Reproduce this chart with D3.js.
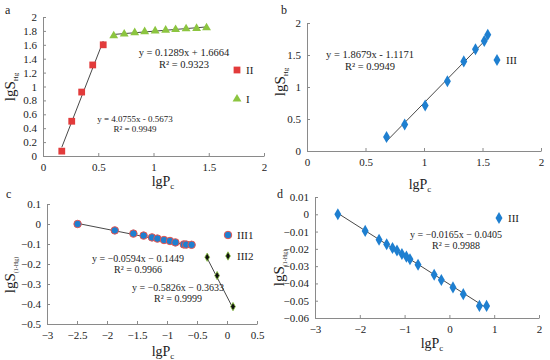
<!DOCTYPE html>
<html>
<head>
<meta charset="utf-8">
<title>lgS vs lgPc</title>
<script src="https://d3js.org/d3.v7.min.js"></script>
<style>
  body { margin: 0; background: #fff; }
  text { font-family: "Liberation Serif", "Times New Roman", serif; fill: #222; }
</style>
</head>
<body>
<svg width="550" height="360"></svg>
<script>
// panel a
const aX2 = [0.17, 0.26, 0.35, 0.45, 0.545];
const aY2 = [0.07, 0.50, 0.92, 1.31, 1.60];
const aX1 = [0.64, 0.735, 0.83, 0.92, 1.015, 1.11, 1.20, 1.295, 1.39, 1.48];
const aY1 = [1.73, 1.755, 1.775, 1.79, 1.80, 1.81, 1.82, 1.83, 1.835, 1.845];
const aFit2 = [4.0755, -0.5673];
const aFit1 = [0.1289, 1.6664];
// panel b
const bX = [0.68, 0.835, 1.01, 1.20, 1.34, 1.44, 1.515, 1.545];
const bY = [0.22, 0.415, 0.71, 1.09, 1.40, 1.59, 1.72, 1.815];
const bFit = [1.8679, -1.1171];
// panel c
const cX1 = [-2.49, -1.87, -1.56, -1.39, -1.25, -1.16, -1.05, -0.95, -0.86, -0.72, -0.68, -0.59];
const cY1 = [0.0, -0.032, -0.048, -0.058, -0.067, -0.073, -0.080, -0.085, -0.092, -0.102, -0.103, -0.104];
const cX2 = [-0.33, -0.165, 0.10];
const cY2 = [-0.166, -0.258, -0.413];
const cFit1 = [-0.0594, -0.1449];
const cFit2 = [-0.5826, -0.3633];
// panel d
const dX = [-2.49, -1.88, -1.57, -1.40, -1.27, -1.17, -1.06, -0.96, -0.88, -0.70, -0.34, -0.18, 0.08, 0.31, 0.67, 0.83];
const dY = [0.0, -0.0096, -0.0147, -0.0173, -0.0195, -0.021, -0.023, -0.0245, -0.026, -0.0292, -0.035, -0.038, -0.0423, -0.0462, -0.053, -0.053];
const dFit = [-0.0165, -0.0405];

// ticks
const ticksAX = [0, 0.5, 1, 1.5, 2];
const ticksAY = [0, 0.2, 0.4, 0.6, 0.8, 1, 1.2, 1.4, 1.6, 1.8, 2];
const ticksBX = [0, 0.5, 1, 1.5, 2];
const ticksBY = [0, 0.5, 1, 1.5, 2];
const ticksCX = [-3, -2.5, -2, -1.5, -1, -0.5, 0, 0.5];
const ticksCY = [-0.5, -0.4, -0.3, -0.2, -0.1, 0, 0.1];
const ticksDX = [-3, -2, -1, 0, 1, 2];
const ticksDY = [-0.06, -0.05, -0.04, -0.03, -0.02, -0.01, 0, 0.01];

const red = "#e23b3b", green = "#8cc540", blue = "#1e7fd0";

const svg = d3.select("svg");
const fmt = d3.format("");
const minus = s => s.replace("-", "\u2212");

function panel(o) {
  const x = d3.scaleLinear().domain(o.xd).range(o.xr);
  const y = d3.scaleLinear().domain(o.yd).range(o.yr);
  const g = svg.append("g");

  const ax = g.append("g").attr("transform", `translate(0,${o.yr[0]})`)
    .call(d3.axisBottom(x).tickValues(o.tx).tickSizeInner(-3).tickSizeOuter(0).tickPadding(7)
      .tickFormat(d => minus(fmt(+d.toFixed(3)))));
  const ay = g.append("g").attr("transform", `translate(${o.xr[0]},0)`)
    .call(d3.axisLeft(y).tickValues(o.ty).tickSizeInner(-3).tickSizeOuter(0).tickPadding(6)
      .tickFormat(d => minus(fmt(+d.toFixed(3)))));
  [ax, ay].forEach(a => {
    a.selectAll("path,line").attr("stroke", "#8a8a8a");
    a.selectAll("text").attr("font-size", 11).attr("fill", "#222")
      .style("font-family", "'Liberation Serif', 'Times New Roman', serif");
  });

  // panel letter
  g.append("text").attr("x", o.letter[0]).attr("y", o.letter[1])
    .attr("font-size", 12).text(o.name);

  // y label
  const yl = g.append("text")
    .attr("transform", `translate(${o.ylab[0]},${o.ylab[1]}) rotate(-90)`)
    .attr("text-anchor", "middle").attr("font-size", 15);
  yl.append("tspan").text("lgS");
  yl.append("tspan").attr("font-size", o.subSize).attr("dy", 3).text(o.sub);

  // x label
  const xl = g.append("text").attr("x", o.xlab[0]).attr("y", o.xlab[1])
    .attr("text-anchor", "middle").attr("font-size", 14);
  xl.append("tspan").text("lgP");
  xl.append("tspan").attr("font-size", 9).attr("dy", 3).text("c");

  return { g, x, y };
}

function trend(p, xs, fit) {
  const ext = d3.extent(xs);
  const line = d3.line().x(d => p.x(d)).y(d => p.y(fit[0] * d + fit[1]));
  p.g.append("path").attr("d", line(ext)).attr("fill", "none")
    .attr("stroke", "#333").attr("stroke-width", 0.9);
}

function points(p, xs, ys, type, size, fill, stroke, sw) {
  const sym = d3.symbol().type(type).size(size);
  p.g.append("g").selectAll("path").data(xs).join("path")
    .attr("transform", (d, i) => `translate(${p.x(d)},${p.y(ys[i])})`)
    .attr("d", sym).attr("fill", fill)
    .attr("stroke", stroke || "none").attr("stroke-width", sw || 0);
}

function label(p, x, y, lines, size) {
  const t = p.g.append("text").attr("text-anchor", "middle").attr("font-size", size);
  lines.forEach((s, i) => t.append("tspan").attr("x", x).attr("y", y + i * (size + 1)).text(s));
}

function legend(p, x, y, type, size, fill, stroke, sw, txt) {
  p.g.append("path").attr("transform", `translate(${x},${y})`)
    .attr("d", d3.symbol().type(type).size(size)()).attr("fill", fill)
    .attr("stroke", stroke || "none").attr("stroke-width", sw || 0);
  p.g.append("text").attr("x", x + 9).attr("y", y + 4).attr("font-size", 11).text(txt);
}

// ---- a ----
const pa = panel({ xd: [0, 2], xr: [43, 264], yd: [0, 2], yr: [156, 17], tx: ticksAX, ty: ticksAY,
  name: "a", letter: [5, 14], ylab: [15, 87], sub: "Hg", subSize: 7, xlab: [163, 186] });
trend(pa, aX2, aFit2);
trend(pa, aX1, aFit1);
points(pa, aX2, aY2, d3.symbolSquare, 46, red);
points(pa, aX1, aY1, d3.symbolTriangle, 34, green);
label(pa, 184, 56, ["y = 0.1289x + 1.6664", "R\u00b2 = 0.9323"], 10.5);
label(pa, 135, 122, ["y = 4.0755x - 0.5673", "R\u00b2 = 0.9949"], 9);
legend(pa, 237, 70, d3.symbolSquare, 46, red, null, 0, "II");
legend(pa, 237, 99, d3.symbolTriangle, 34, green, null, 0, "I");

// ---- b ----
const pb = panel({ xd: [0, 2], xr: [307, 541], yd: [0, 2], yr: [151, 23], tx: ticksBX, ty: ticksBY,
  name: "b", letter: [281, 14], ylab: [285, 82], sub: "Hg", subSize: 7, xlab: [420, 189] });
trend(pb, bX, bFit);
points(pb, bX, bY, d3.symbolDiamond, 42, blue);
label(pb, 370, 58, ["y = 1.8679x - 1.1171", "R\u00b2 = 0.9949"], 10.5);
legend(pb, 497, 60, d3.symbolDiamond, 42, blue, null, 0, "III");

// ---- c ----
const pc = panel({ xd: [-3, 0.5], xr: [47, 257], yd: [-0.5, 0.1], yr: [324, 204], tx: ticksCX, ty: ticksCY,
  name: "c", letter: [6, 198], ylab: [15, 275], sub: "(1-Hg)", subSize: 6, xlab: [163, 356] });
trend(pc, cX1, cFit1);
trend(pc, cX2, cFit2);
points(pc, cX1, cY1, d3.symbolCircle, 44, blue, "#e8554e", 1);
points(pc, cX2, cY2, d3.symbolDiamond, 20, "#111", green, 0.8);
label(pc, 138, 262, ["y = \u22120.0594x \u2212 0.1449", "R\u00b2 = 0.9966"], 10);
label(pc, 178, 291, ["y = \u22120.5826x \u2212 0.3633", "R\u00b2 = 0.9999"], 10);
legend(pc, 228, 235, d3.symbolCircle, 44, blue, "#e8554e", 1, "III1");
legend(pc, 228, 256, d3.symbolDiamond, 20, "#111", green, 0.8, "III2");

// ---- d ----
const pd = panel({ xd: [-3, 2], xr: [315, 539], yd: [-0.06, 0.01], yr: [318, 197], tx: ticksDX, ty: ticksDY,
  name: "d", letter: [277, 198], ylab: [284, 268], sub: "(1-Hg)", subSize: 6, xlab: [432, 348] });
trend(pd, dX, dFit);
points(pd, dX, dY, d3.symbolDiamond, 42, blue);
label(pd, 456, 238, ["y = \u22120.0165x \u2212 0.0405", "R\u00b2 = 0.9988"], 10);
legend(pd, 499, 218, d3.symbolDiamond, 42, blue, null, 0, "III");
</script>
</body>
</html>
